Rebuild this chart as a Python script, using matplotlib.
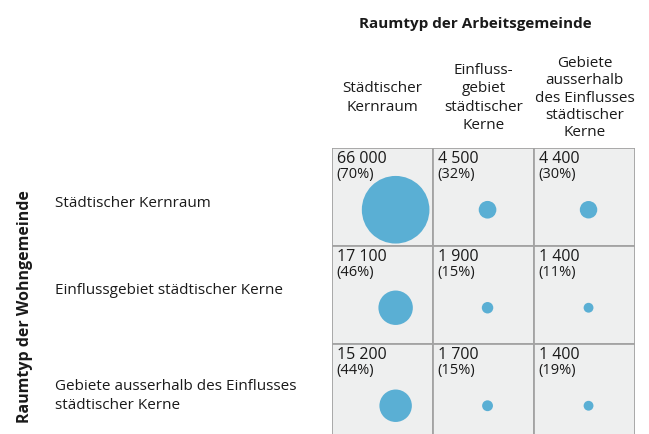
import matplotlib
matplotlib.use("Agg")
import matplotlib.pyplot as plt
import matplotlib.transforms as mtransforms
import numpy as np

plt.rcParams['font.family'] = ['Open Sans', 'DejaVu Sans']

col_labels = ["Städtischer\nKernraum",
              "Einfluss-\ngebiet\nstädtischer\nKerne",
              "Gebiete\nausserhalb\ndes Einflusses\nstädtischer\nKerne"]
row_labels = ["Städtischer Kernraum",
              "Einflussgebiet städtischer Kerne",
              "Gebiete ausserhalb des Einflusses\nstädtischer Kerne"]
values = [[66000, 4500, 4400],
          [17100, 1900, 1400],
          [15200, 1700, 1400]]
shares = [[70, 32, 30],
          [46, 15, 11],
          [44, 15, 19]]
title_x = "Raumtyp der Arbeitsgemeinde"
title_y = "Raumtyp der Wohngemeinde"

W, H = 649, 434
fig = plt.figure(figsize=(W/100, H/100), dpi=100)

left, right, top, bottom = 332, 635, 148, 442
ax = fig.add_axes([left/W, 1-bottom/H, (right-left)/W, (bottom-top)/H])
ax.set_xlim(0, 3)
ax.set_ylim(3, 0)
ax.axis('off')

bg = '#EEEFEF'
edge = '#A3A3A3'
circ = '#5AAFD4'
txt = '#1a1a1a'

for r in range(3):
    for c in range(3):
        ax.add_patch(plt.Rectangle((c, r), 1, 1, facecolor=bg, edgecolor=edge,
                                   linewidth=1.3, zorder=1))

vals = np.array(values, dtype=float)
rr, cc = np.meshgrid(np.arange(3), np.arange(3), indexing='ij')
col_off = np.array([0.63, 0.54, 0.54])
k = 2370/66000
ax.scatter(cc.ravel()+col_off[cc.ravel()], rr.ravel()+0.63, s=vals.ravel()*k, color=circ,
           edgecolors='none', zorder=3)

def fmt(v):
    return f"{v:,}".replace(",", " ")

for r in range(3):
    for c in range(3):
        ax.text(c+0.045, r+0.03, fmt(values[r][c]), fontsize=11.5, va='top', ha='left',
                color=txt, zorder=4)
        ax.text(c+0.045, r+0.195, f"({shares[r][c]}%)", fontsize=10.5, va='top', ha='left',
                color=txt, zorder=4)

trans_cx = mtransforms.blended_transform_factory(ax.transData, fig.transFigure)
col_ls = [1.38, 1.28, 1.2]
for c, lab in enumerate(col_labels):
    fig.text(c+0.5, 1-98/H, lab, transform=trans_cx, fontsize=11, ha='center', va='center',
             linespacing=col_ls[c], color=txt)

fig.text(475/W, 1-24/H, title_x, fontsize=11, fontweight='bold', ha='center', va='center',
         color=txt)

trans_ry = mtransforms.blended_transform_factory(fig.transFigure, ax.transData)
row_dy = [0.07, -0.05, 0.03]
for r, lab in enumerate(row_labels):
    fig.text(55/W, r+0.5+row_dy[r], lab, transform=trans_ry, fontsize=11, ha='left', va='center',
             linespacing=1.3, color=txt)

fig.text(25/W, 1-307/H, title_y, fontsize=11.5, fontweight='bold', rotation=90,
         ha='center', va='center', color=txt)

fig.savefig("out.png", dpi=100)
